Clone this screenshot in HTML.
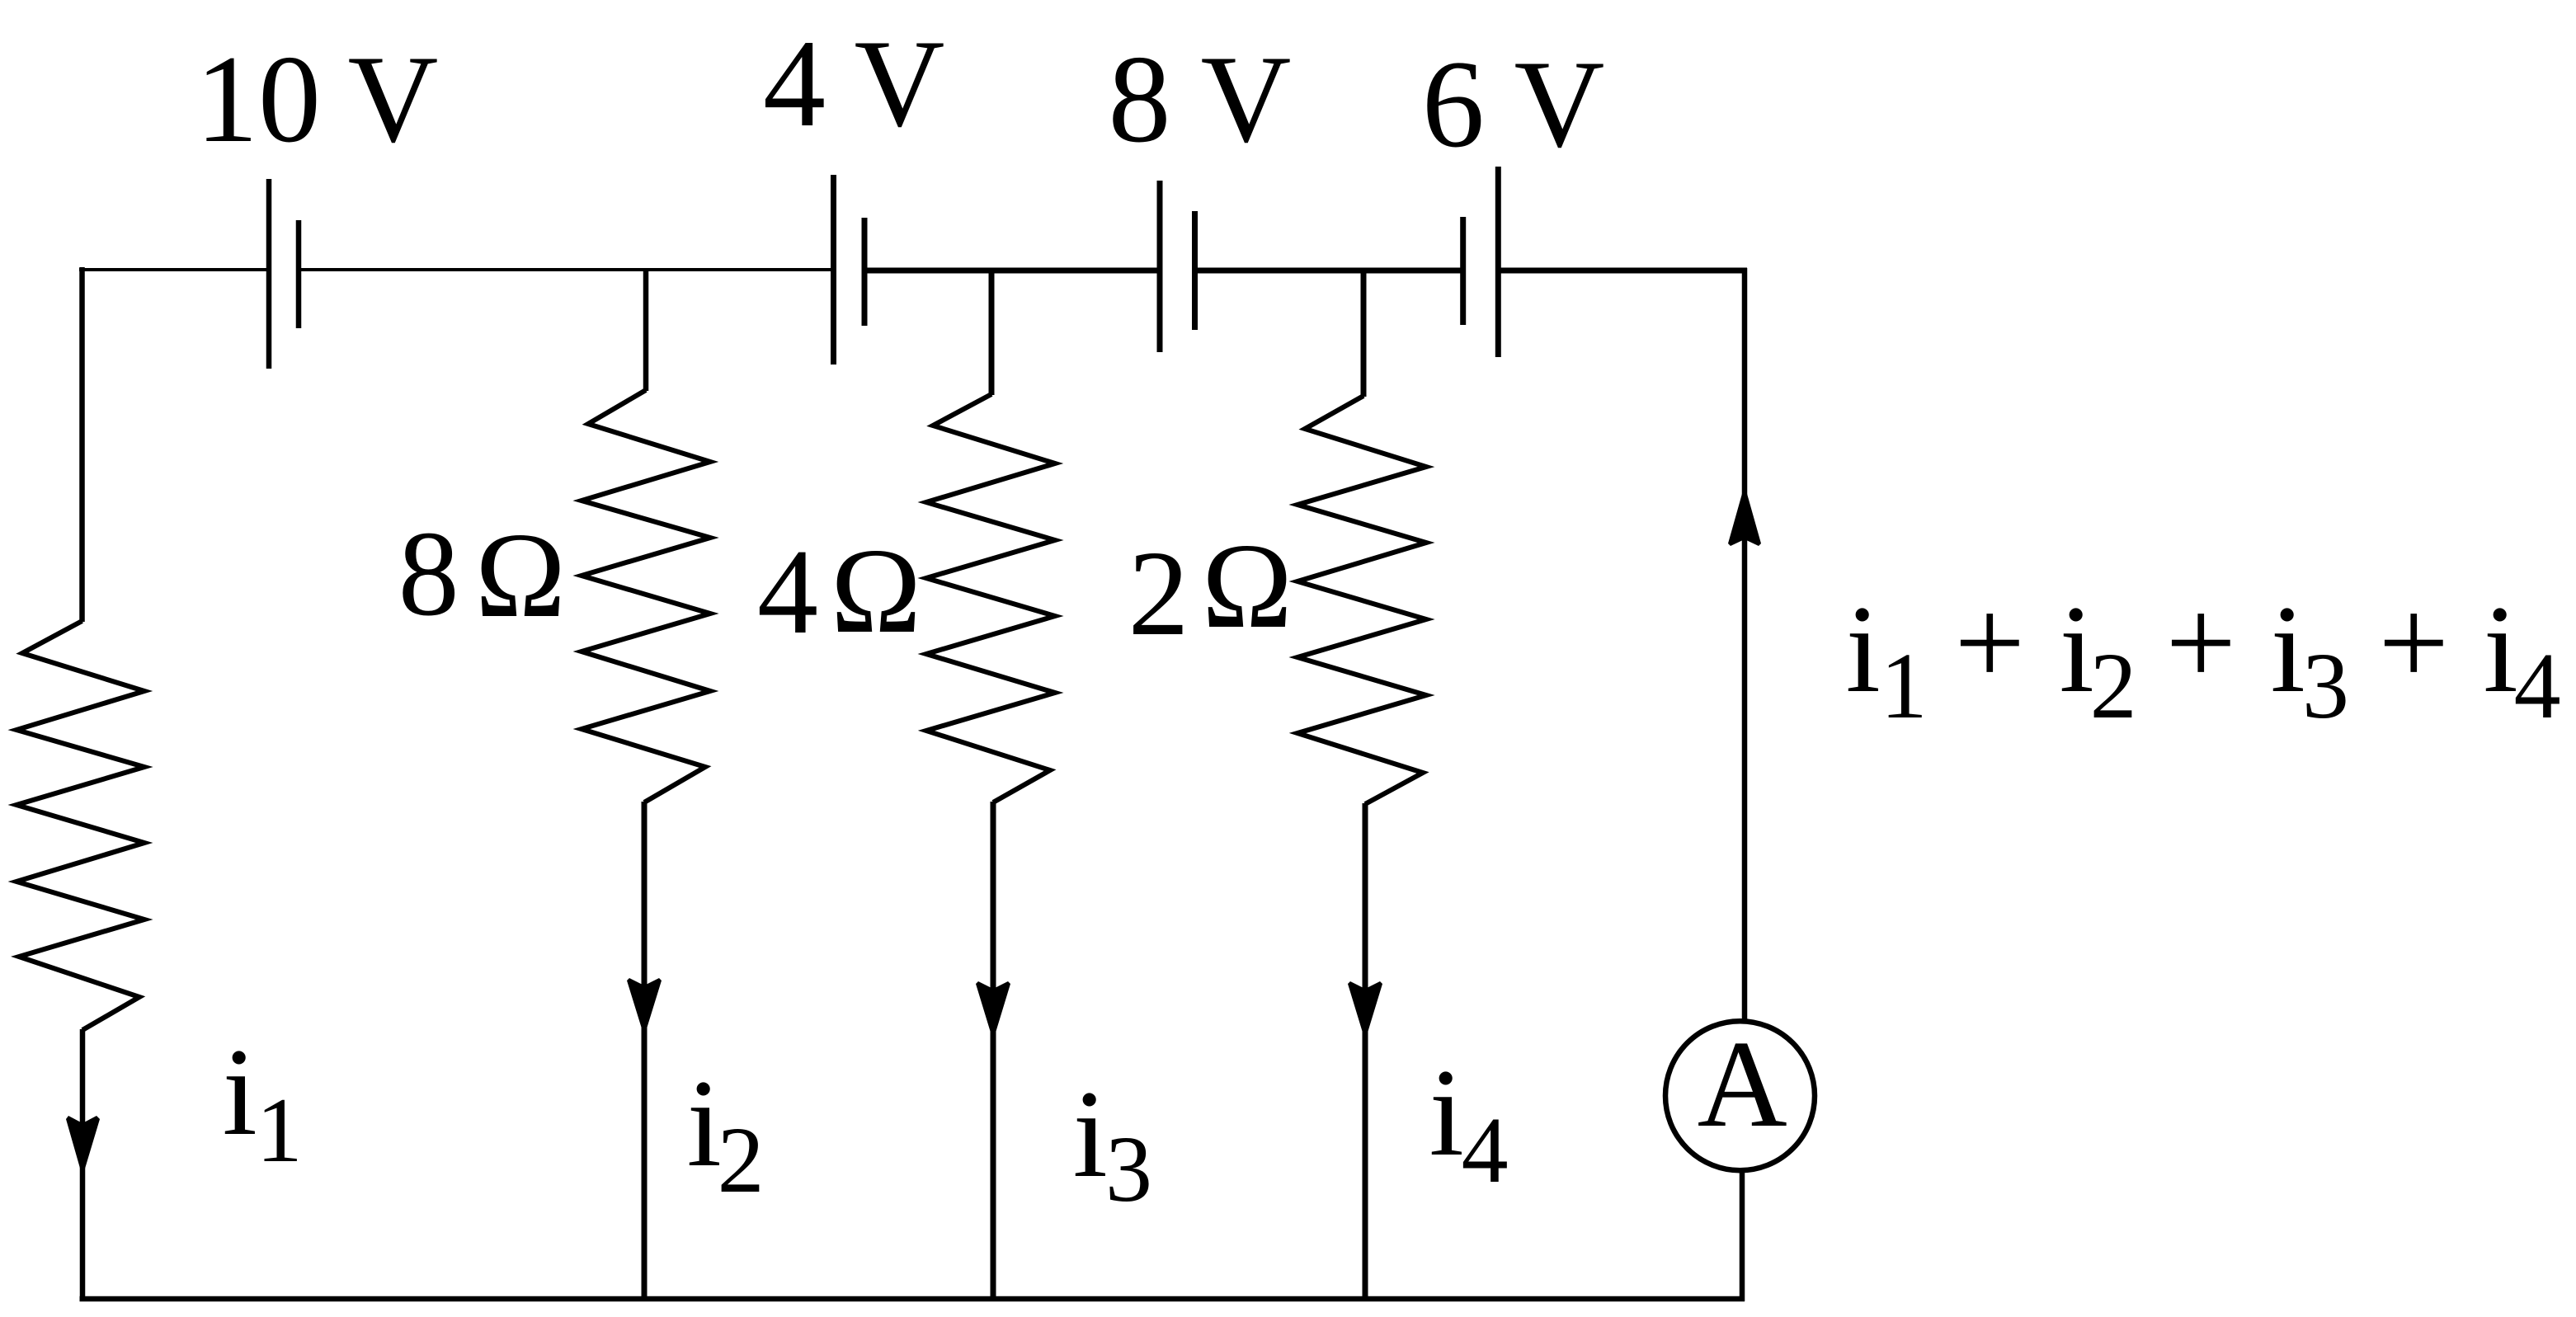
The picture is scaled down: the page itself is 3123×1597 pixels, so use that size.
<!DOCTYPE html>
<html>
<head>
<meta charset="utf-8">
<style>
  html, body { margin: 0; padding: 0; background: #fff; }
  svg { display: block; }
  text { font-family: "Liberation Serif", "Times New Roman", serif; fill: #000; }
</style>
</head>
<body>
<svg width="3123" height="1597" viewBox="0 0 3123 1597" xmlns="http://www.w3.org/2000/svg">
  <rect x="0" y="0" width="3123" height="1597" fill="#fff"/>

  <g stroke="#000" fill="none" stroke-linecap="butt" stroke-linejoin="miter">
    <!-- top wire thin part -->
    <line x1="96" y1="327" x2="326" y2="327" stroke-width="4"/>
    <line x1="362" y1="327" x2="1010" y2="327" stroke-width="4"/>
    <!-- top wire thick part -->
    <line x1="1048" y1="328" x2="1406" y2="328" stroke-width="7"/>
    <line x1="1448" y1="328" x2="1774" y2="328" stroke-width="7"/>
    <line x1="1816" y1="328" x2="2118" y2="328" stroke-width="7"/>

    <!-- batteries -->
    <line x1="326" y1="217" x2="326" y2="447" stroke-width="6.5"/>
    <line x1="362" y1="267" x2="362" y2="398" stroke-width="6.5"/>
    <line x1="1010.5" y1="212" x2="1010.5" y2="442" stroke-width="7"/>
    <line x1="1048" y1="264" x2="1048" y2="395" stroke-width="7"/>
    <line x1="1406" y1="219" x2="1406" y2="427" stroke-width="7"/>
    <line x1="1448.5" y1="256" x2="1448.5" y2="400" stroke-width="7"/>
    <line x1="1773.7" y1="263" x2="1773.7" y2="394" stroke-width="7"/>
    <line x1="1816.3" y1="202" x2="1816.3" y2="433" stroke-width="7"/>

    <!-- left branch -->
    <line x1="99.5" y1="324" x2="99.5" y2="754" stroke-width="6.5"/>
    <polyline points="99.5,753 27,792 175,838 20,885 175,930 20,976 175,1022 20,1069 175,1115 23,1160 169,1209 100,1249" stroke-width="6"/>
    <line x1="100" y1="1248" x2="100" y2="1578" stroke-width="6.5"/>

    <!-- branch 2 (8 ohm) -->
    <line x1="783" y1="326" x2="783" y2="474" stroke-width="6.5"/>
    <polyline points="783,473 713,514 861,560 705,607 861,652 705,698 861,744 705,790 861,838 705,884 855,930 781,973" stroke-width="6"/>
    <line x1="781" y1="972" x2="781" y2="1575" stroke-width="7"/>

    <!-- branch 3 (4 ohm) -->
    <line x1="1202" y1="326" x2="1202" y2="479" stroke-width="7"/>
    <polyline points="1202,478 1131,516 1279,562 1123,609 1279,655 1123,701 1279,747 1123,793 1279,840 1123,886 1273,934 1204,973" stroke-width="6"/>
    <line x1="1204" y1="972" x2="1204" y2="1575" stroke-width="7"/>

    <!-- branch 4 (2 ohm) -->
    <line x1="1653" y1="326" x2="1653" y2="481" stroke-width="7"/>
    <polyline points="1653,480 1582,520 1729,566 1573,612 1729,658 1573,705 1729,751 1573,797 1729,843 1573,889 1725,937 1655,975" stroke-width="6"/>
    <line x1="1655" y1="974" x2="1655" y2="1575" stroke-width="7"/>

    <!-- right wire -->
    <line x1="2115" y1="325" x2="2115" y2="1236" stroke-width="6.5"/>
    <line x1="2112" y1="1421" x2="2112" y2="1578" stroke-width="6.5"/>

    <!-- bottom wire -->
    <line x1="96.5" y1="1575" x2="2115" y2="1575" stroke-width="6.5"/>

    <!-- ammeter -->
    <circle cx="2109.5" cy="1328.7" r="90.5" stroke-width="6.5"/>
  </g>

  <!-- arrowheads -->
  <g fill="#000" stroke="none">
    <polygon points="100,1427 80,1357 83,1353 100,1362 117,1353 121,1357"/>
    <polygon points="781,1257 760,1189 763,1186 781,1195 799,1186 802,1189"/>
    <polygon points="1204,1262 1183,1193 1186,1190 1204,1199 1222,1190 1225,1193"/>
    <polygon points="1655,1262 1634,1193 1637,1190 1655,1199 1673,1190 1676,1193"/>
    <polygon points="2115,588 2095,659 2098,662 2115,654 2132,662 2135,659"/>
  </g>

  <!-- battery labels -->
  <g font-size="152">
    <text x="237" y="171">10</text>
    <text x="421.6" y="171">V</text>
    <text x="925" y="152">4</text>
    <text x="1035.6" y="152">V</text>
    <text x="1343.5" y="171">8</text>
    <text x="1455.6" y="171">V</text>
    <text x="1723.8" y="177">6</text>
    <text x="1835.6" y="177">V</text>
  </g>

  <!-- resistor labels -->
  <g font-size="148">
    <text x="482.7" y="745">8</text>
    <text x="576" y="747">Ω</text>
    <text x="918" y="767">4</text>
    <text x="1007" y="766">Ω</text>
    <text x="1367.6" y="769">2</text>
    <text x="1457" y="760">Ω</text>
  </g>

  <!-- current labels -->
  <g>
    <text x="269.6" y="1375" font-size="152">i</text>
    <text x="310.6" y="1408" font-size="112">1</text>
    <text x="832.6" y="1413" font-size="152">i</text>
    <text x="869.6" y="1445" font-size="114">2</text>
    <text x="1300.6" y="1426" font-size="152">i</text>
    <text x="1340" y="1456" font-size="114">3</text>
    <text x="1732.6" y="1400" font-size="152">i</text>
    <text x="1771.6" y="1433" font-size="114">4</text>
  </g>

  <!-- ammeter label -->
  <text x="2057.7" y="1365" font-size="151">A</text>

  <!-- sum label -->
  <g>
    <text x="2237.6" y="838" font-size="152">i</text>
    <text x="2279.6" y="870" font-size="114">1</text>
    <text x="2369.4" y="830" font-size="152">+</text>
    <text x="2496.6" y="838" font-size="152">i</text>
    <text x="2533.6" y="870" font-size="114">2</text>
    <text x="2625.4" y="830" font-size="152">+</text>
    <text x="2752.6" y="838" font-size="152">i</text>
    <text x="2791" y="870" font-size="114">3</text>
    <text x="2883.4" y="830" font-size="152">+</text>
    <text x="3010.6" y="838" font-size="152">i</text>
    <text x="3047.6" y="870" font-size="114">4</text>
  </g>
</svg>
</body>
</html>
